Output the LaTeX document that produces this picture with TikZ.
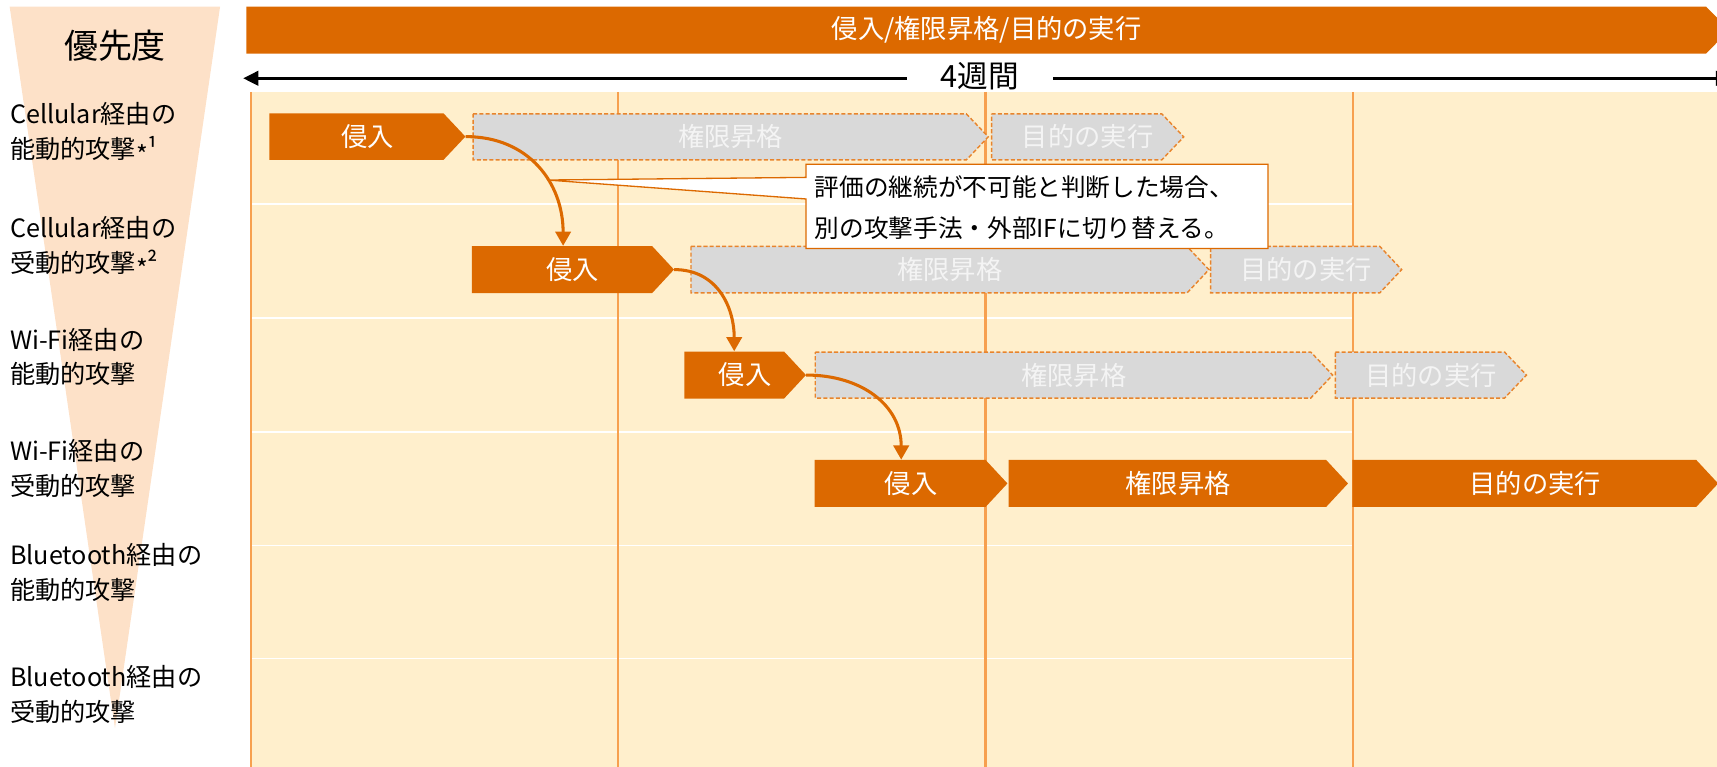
\documentclass[tikz,border=0pt]{standalone}
\usepackage{fontspec}
\setmainfont{Noto Sans CJK JP}
\usetikzlibrary{arrows.meta}
\definecolor{barorange}{HTML}{DC6900}
\definecolor{funnelc}{HTML}{FDE1C8}
\definecolor{chartbg}{HTML}{FFEFCC}
\definecolor{vlinec}{HTML}{F7A04F}
\definecolor{dashor}{HTML}{E8842C}
\definecolor{grayfill}{HTML}{D9D9D9}
\definecolor{graytext}{HTML}{F4F4F4}
\newcommand\ganttbar[7]{%
  \path[#6bar] (#2,#4) -- ({#3-20},#4) -- (#3,{(#4+#5)/2}) -- ({#3-20},#5) -- (#2,#5) -- cycle;
  \node[bartext,#6text,minimum width=#3pt-#2pt,minimum height=#5pt-#4pt] (#1) at ({(#2+#3)/2},{(#4+#5)/2}) {#7};
}
\newcommand\midast{\raisebox{-0.45ex}{*}}
\begin{document}
\begin{tikzpicture}[x=1pt,y=-1pt,
  solidbar/.style={fill=barorange},
  dashbar/.style={fill=grayfill,draw=dashor,line width=1.3pt,dash pattern=on 3.7pt off 2pt},
  bartext/.style={inner sep=0pt,font=\fontsize{24}{28}\selectfont},
  solidtext/.style={text=white},
  dashtext/.style={text=graytext},
  rowlabel/.style={anchor=west,align=left,inner sep=0pt,font=\fontsize{23}{31.5}\selectfont},
  conn/.style={draw=barorange,line width=2.8pt,-{Triangle[length=13pt,width=14pt]}},
  weekarrow/.style={draw=black,line width=3.2pt,{Triangle[length=14pt,width=13pt]}-{Triangle[length=14pt,width=13pt]}},
  gridv/.style={draw=vlinec,line width=2.2pt},
  gridh/.style={draw=white,line width=1.5pt},
  callout/.style={fill=white,draw=barorange,line width=1.2pt},
  callouttext/.style={anchor=west,inner sep=0pt,font=\fontsize{22.5}{26}\selectfont}
]
\useasboundingbox (0,0) rectangle (1568,700);
% funnel
\fill[funnelc] (8.8,6) -- (201,6) -- (105,665) -- cycle;
\node[inner sep=0pt,font=\fontsize{31}{34}\selectfont] (prio) at (105,41.5) {優先度};
% row labels
\node[rowlabel] (l1) at (9,121.75) {Cellular経由の\\能動的攻撃\midast¹};
\node[rowlabel] (l2) at (9,226) {Cellular経由の\\受動的攻撃\midast²};
\node[rowlabel] (l3) at (9,326) {Wi-Fi経由の\\能動的攻撃};
\node[rowlabel] (l4) at (9,428) {Wi-Fi経由の\\受動的攻撃};
\node[rowlabel] (l5) at (9,523) {Bluetooth経由の\\能動的攻撃};
\node[rowlabel] (l6) at (9,634) {Bluetooth経由の\\受動的攻撃};
% top phase bar
\fill[barorange] (225,6) -- (1558,6) -- (1579,27.5) -- (1558,49) -- (225,49) -- cycle;
\node[bartext,solidtext] (phase) at (901,27.5) {侵入/権限昇格/目的の実行};
% 4 weeks arrow
\coordinate (wl) at (222,71.5);
\coordinate (wr) at (1581,71.5);
\draw[weekarrow] (wl) -- (wr);
\node[fill=white,minimum width=134pt,minimum height=29pt,inner sep=0pt,font=\fontsize{28}{30}\selectfont] (weeks) at (895,69.5) {4週間};
% chart background and grid
\fill[chartbg] (228,84) rectangle (1568,700);
\foreach \yy in {186.5,290.5,394.5,498,601.5} \draw[gridh] (229,\yy) -- (1235.5,\yy);
\foreach \xx in {229,564.5,900,1235.5} \draw[gridv] (\xx,84) -- (\xx,700);
% bars row 1
\ganttbar{a1}{246}{425}{103.5}{146}{solid}{侵入}
\ganttbar{b1}{432}{902.5}{104}{146}{dash}{権限昇格}
\ganttbar{c1}{905.5}{1081}{104}{146}{dash}{目的の実行}
% row 2
\ganttbar{a2}{431}{615.5}{224.7}{267.7}{solid}{侵入}
\ganttbar{b2}{631}{1104}{225}{267.5}{dash}{権限昇格}
\ganttbar{c2}{1105.5}{1280}{225}{267.5}{dash}{目的の実行}
% row 3
\ganttbar{a3}{625}{736}{321}{364}{solid}{侵入}
\ganttbar{b3}{744.5}{1217}{321.5}{363.5}{dash}{権限昇格}
\ganttbar{c3}{1219.5}{1394}{321.5}{363.5}{dash}{目的の実行}
% row 4
\ganttbar{a4}{744}{920}{420}{463}{solid}{侵入}
\ganttbar{b4}{921}{1231}{420}{463}{solid}{権限昇格}
\ganttbar{c4}{1235}{1569}{420}{463}{solid}{目的の実行}
% connectors
\draw[conn] (a1.east) to[out=0,in=90,looseness=1.1] ([xshift=-9pt]a2.north);
\draw[conn] (a2.east) to[out=0,in=90,looseness=1.1] ([xshift=-10pt]a3.north);
\draw[conn] (a3.east) to[out=0,in=90,looseness=1.1] ([xshift=-9pt]a4.north);
% callout
\path[callout] (736,150) -- (1158,150) -- (1158,227) -- (736,227) -- (736,181.7) -- (500,164.4) -- (736,162) -- cycle;
\node[callouttext] (note1) at (744,171) {評価の継続が不可能と判断した場合、};
\node[callouttext] (note2) at (744,208) {別の攻撃手法・外部IFに切り替える。};
\end{tikzpicture}
\end{document}
